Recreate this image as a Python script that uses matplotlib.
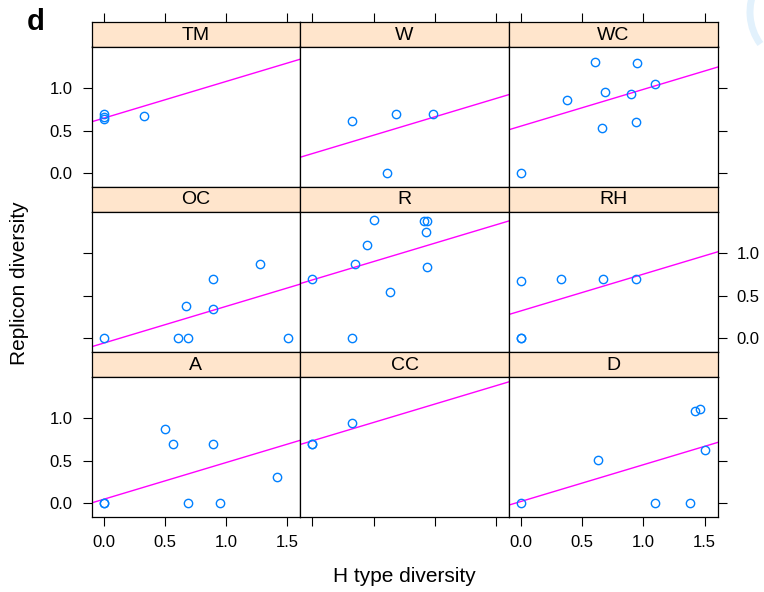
import numpy as np
import matplotlib
matplotlib.use("Agg")
import matplotlib.pyplot as plt
from matplotlib.patches import Arc

plt.rcParams['font.family'] = ['Liberation Sans', 'DejaVu Sans']

# ---- data -------------------------------------------------------------
panels = ["TM", "W", "WC", "OC", "R", "RH", "A", "CC", "D"]

tm_x = [0.0, 0.0, 0.0, 0.33]
tm_y = [0.69, 0.66, 0.63, 0.67]

w_x = [0.32, 0.68, 0.99, 0.61]
w_y = [0.61, 0.69, 0.69, 0.0]

wc_x = [0.605, 0.95, 1.094, 0.684, 0.895, 0.372, 0.66, 0.938, 0.0]
wc_y = [1.30, 1.29, 1.04, 0.95, 0.926, 0.855, 0.534, 0.596, 0.0]

oc_x = [0.0, 0.61, 0.69, 1.505, 0.675, 0.897, 0.897, 1.275]
oc_y = [0.0, 0.0, 0.0, 0.0, 0.376, 0.346, 0.69, 0.867]

r_x = [0.0, 0.32, 0.35, 0.45, 0.50, 0.632, 0.91, 0.94, 0.93, 0.936]
r_y = [0.69, 0.0, 0.864, 1.09, 1.38, 0.538, 1.37, 1.37, 1.24, 0.83]

rh_x = [0.0, 0.0, 0.0, 0.323, 0.67, 0.94]
rh_y = [0.675, 0.0, 0.0, 0.687, 0.69, 0.687]

a_x = [0.0, 0.0, 0.503, 0.567, 0.897, 1.42, 0.69, 0.955]
a_y = [0.0, 0.0, 0.863, 0.69, 0.69, 0.306, 0.0, 0.0]

cc_x = [0.0, 0.0, 0.323]
cc_y = [0.69, 0.69, 0.94]

d_x = [0.0, 0.632, 1.094, 1.38, 1.423, 1.467, 1.5]
d_y = [0.0, 0.502, 0.0, 0.0, 1.082, 1.099, 0.62]

# fitted lines (common slope, panel-specific intercepts)
fit_slope = 0.428
fit_intercepts = [0.644, 0.231, 0.552, -0.055, 0.682, 0.3215, 0.048, 0.73, 0.023]

x_ticks = [0.0, 0.5, 1.0, 1.5]
x_ticklabels = ["0.0", "0.5", "1.0", "1.5"]
y_ticks = [0.0, 0.5, 1.0]
y_ticklabels = ["0.0", "0.5", "1.0"]

xs = [tm_x, w_x, wc_x, oc_x, r_x, rh_x, a_x, cc_x, d_x]
ys = [tm_y, w_y, wc_y, oc_y, r_y, rh_y, a_y, cc_y, d_y]

# ---- layout -----------------------------------------------------------
W, H = 764, 592
fig = plt.figure(figsize=(W / 100, H / 100), dpi=100)

XLIM = (-0.1, 1.607)
YLIM = (-0.153, 1.48)

col_left = 91.5
col_w = 208.7
row_top0 = 21.5
strip_h = 25.0
panel_h = 140.0
pitch = strip_h + panel_h

STRIP_COL = "#ffe5cc"
PT_COL = "#0080ff"
LINE_COL = "#ff00ff"

tick_len = 6.5   # pt (~9 px)
tick_pad = 7.0
tick_fs = 12


def rect(left, top, w, h):
    return [left / W, 1 - (top + h) / H, w / W, h / H]


def style_spines(ax):
    for s in ax.spines.values():
        s.set_linewidth(0.9)
        s.set_color("black")


for i, name in enumerate(panels):
    r, c = divmod(i, 3)
    left = col_left + c * col_w
    stop = row_top0 + r * pitch
    ptop = stop + strip_h

    # strip
    sax = fig.add_axes(rect(left, stop, col_w, strip_h))
    sax.set_facecolor(STRIP_COL)
    sax.set_xlim(XLIM)
    sax.set_ylim(0, 1)
    sax.text(0.5, 0.46, name, transform=sax.transAxes, ha="center",
             va="center", fontsize=14)
    style_spines(sax)
    sax.tick_params(left=False, right=False, bottom=False, top=False,
                    labelleft=False, labelbottom=False)
    if r == 0:
        sax.set_xticks(x_ticks)
        sax.set_xticklabels(x_ticklabels)
        sax.tick_params(axis="x", top=True, bottom=False,
                        labeltop=(c == 1), labelbottom=False,
                        direction="out", length=tick_len, width=0.8,
                        pad=tick_pad, labelsize=tick_fs)
    else:
        sax.set_xticks([])
    sax.set_yticks([])

    # panel
    ax = fig.add_axes(rect(left, ptop, col_w, panel_h))
    ax.set_xlim(XLIM)
    ax.set_ylim(YLIM)
    style_spines(ax)

    ax.axline((0, fit_intercepts[i]), slope=fit_slope, color=LINE_COL,
              lw=1.0, zorder=2)
    ax.plot(xs[i], ys[i], linestyle="none", marker="o", markersize=6,
            markerfacecolor="none", markeredgecolor=PT_COL,
            markeredgewidth=1.0, zorder=3)

    ax.set_xticks(x_ticks)
    ax.set_xticklabels(x_ticklabels)
    ax.set_yticks(y_ticks)
    ax.set_yticklabels(y_ticklabels)

    ax.tick_params(direction="out", length=tick_len, width=0.8,
                   pad=tick_pad, labelsize=tick_fs)
    ax.tick_params(axis="x", top=False, labeltop=False,
                   bottom=(r == 2), labelbottom=(r == 2 and c != 1))
    left_ticks = (c == 0)
    right_ticks = (c == 2)
    left_labels = (c == 0 and r != 1)
    right_labels = (c == 2 and r == 1)
    ax.tick_params(axis="y", left=left_ticks, right=right_ticks,
                   labelleft=left_labels, labelright=right_labels)

# axis titles
fig.text(404.5 / W, 1 - 577 / H, "H type diversity", ha="center",
         va="center", fontsize=15)
fig.text(20 / W, 1 - 283 / H, "Replicon diversity", ha="center",
         va="center", rotation=90, fontsize=15)

# panel letter
fig.text(27 / W, 1 - 22 / H, "d", ha="left", va="center",
         fontsize=21, fontweight="bold")

# faint decorative arc at the top-right corner (from the cropped source)
fig.add_artist(Arc((795 / W, 1 - 12 / H), 90 / W, 100 / H,
                   theta1=140, theta2=230, transform=fig.transFigure,
                   color="#e2f1fc", lw=5))

fig.savefig("out.png", dpi=100)
